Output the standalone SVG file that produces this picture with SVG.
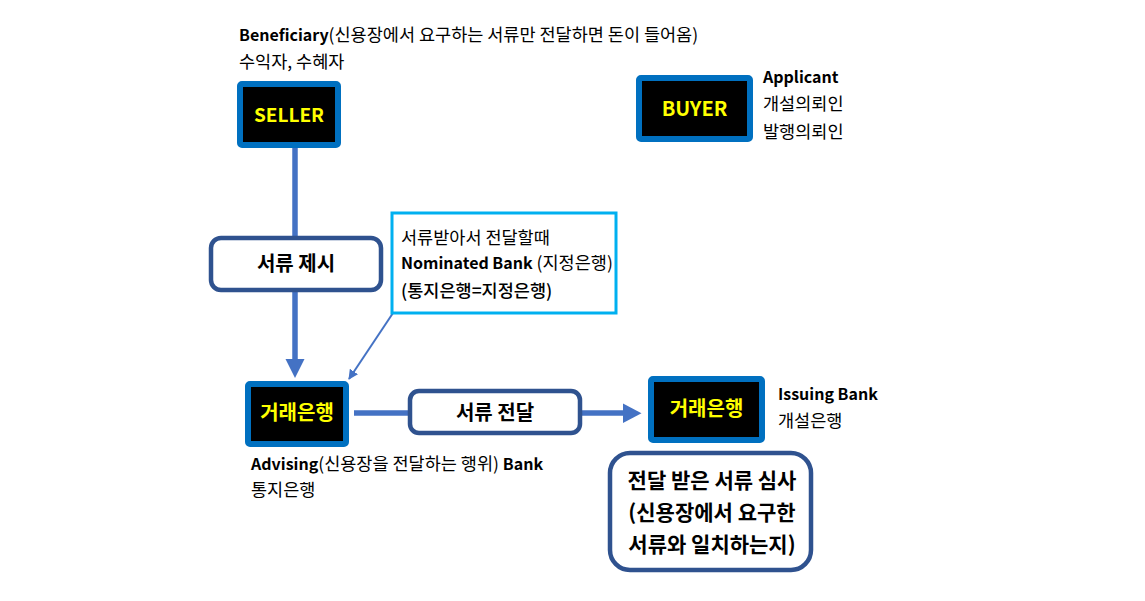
<svg xmlns="http://www.w3.org/2000/svg" width="1145" height="601" viewBox="0 0 1145 601">
<style>
text{font-family:"Noto Sans CJK KR","Noto Sans",sans-serif;fill:#000}
.lbl{font-size:17.5px}
.b{font-weight:bold;font-size:16px}
.m{font-weight:500}
.node{fill:#000;stroke:#0070C0;stroke-width:6}
.nt{font-size:20px;font-weight:bold;fill:#FFFF00;text-anchor:middle}
.rb{fill:#fff;stroke:#2F528F;stroke-width:4.5}
.rt{font-size:20px;font-weight:bold;text-anchor:middle}
.conn{stroke:#4472C4;stroke-width:5.5;fill:none}
</style>
<defs>
<marker id="ah" viewBox="0 0 10 10" refX="9" refY="5" markerWidth="5" markerHeight="5" orient="auto" markerUnits="strokeWidth">
<path d="M0,0 L10,5 L0,10 z" fill="#4472C4"/>
</marker>
</defs>
<g id="connectors">
<line class="conn" x1="295" y1="148" x2="295" y2="361"/>
<polygon points="285.5,359 304.5,359 295,378" fill="#4472C4"/>
<line class="conn" x1="354" y1="413" x2="625" y2="413"/>
<polygon points="623,403.5 623,423 641.5,413.2" fill="#4472C4"/>
<line x1="393" y1="313" x2="349" y2="379" stroke="#4472C4" stroke-width="2" marker-end="url(#ah)"/>
</g>
<g id="beneficiary-label">
<text class="lbl" x="239" y="41"><tspan class="b">Beneficiary</tspan>(신용장에서 요구하는 서류만 전달하면 돈이 들어옴)</text>
<text class="lbl" x="239" y="68">수익자, 수혜자</text>
</g>
<g id="seller">
<rect class="node" x="240" y="84" width="98" height="61" rx="2"/>
<text class="nt" x="289" y="122" style="font-size:19px">SELLER</text>
</g>
<g id="buyer">
<rect class="node" x="639" y="78" width="111" height="61" rx="2"/>
<text class="nt" x="694.5" y="116">BUYER</text>
</g>
<g id="applicant-label">
<text class="lbl b" x="763" y="83">Applicant</text>
<text class="lbl" x="763" y="110">개설의뢰인</text>
<text class="lbl" x="763" y="138">발행의뢰인</text>
</g>
<g id="present-docs">
<rect class="rb" x="211" y="238" width="170" height="52" rx="10"/>
<text class="rt" x="296" y="271">서류 제시</text>
</g>
<g id="nominated-callout">
<rect x="392" y="213" width="224" height="100" fill="#fff" stroke="#00B0F0" stroke-width="3"/>
<text class="lbl" x="401" y="244">서류받아서 전달할때</text>
<text class="lbl" x="401" y="269"><tspan class="b">Nominated Bank</tspan> (지정은행)</text>
<text class="lbl m" x="401" y="297">(통지은행=지정은행)</text>
</g>
<g id="advising-bank">
<rect class="node" x="248" y="384" width="98" height="60" rx="2"/>
<text class="nt" x="297" y="420">거래은행</text>
</g>
<g id="advising-label">
<text class="lbl" x="251" y="470"><tspan class="b">Advising</tspan>(신용장을 전달하는 행위) <tspan class="b">Bank</tspan></text>
<text class="lbl" x="251" y="496">통지은행</text>
</g>
<g id="deliver-docs">
<rect class="rb" x="410" y="391" width="170" height="42" rx="9"/>
<text class="rt" x="495" y="420">서류 전달</text>
</g>
<g id="issuing-bank">
<rect class="node" x="651" y="379" width="111" height="61" rx="2"/>
<text class="nt" x="706.5" y="416">거래은행</text>
</g>
<g id="issuing-label">
<text class="lbl b" x="778" y="400">Issuing Bank</text>
<text class="lbl" x="778" y="427">개설은행</text>
</g>
<g id="review-docs">
<rect class="rb" x="610" y="453" width="201" height="117" rx="20"/>
<text class="rt" x="712" y="488" style="font-size:21px">전달 받은 서류 심사</text>
<text class="rt" x="712" y="520" style="font-size:21px">(신용장에서 요구한</text>
<text class="rt" x="712" y="552" style="font-size:21px">서류와 일치하는지)</text>
</g>
</svg>
